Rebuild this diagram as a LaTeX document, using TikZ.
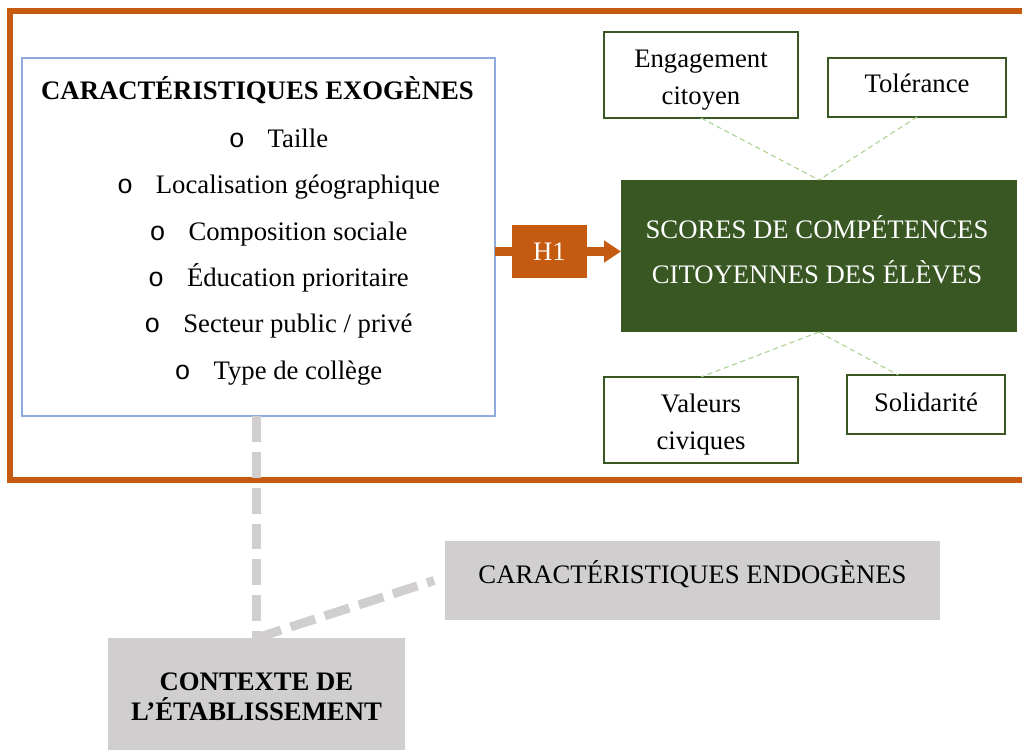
\documentclass[tikz,border=0pt]{standalone}
\usepackage{fontspec}
\setmainfont{Liberation Serif}
\newfontfamily\bulletfont{Liberation Mono}
\usepackage{tikz}
\usetikzlibrary{arrows.meta}
\newcommand{\pixelsize}{0.02cm}
\newcommand{\listbullet}{{\bulletfont o}\hspace{13pt}}
\newcommand{\lowerline}{\rule{0pt}{16pt}}
\definecolor{frameorange}{HTML}{C55A11}
\definecolor{exoblue}{HTML}{8FAADC}
\definecolor{scoregreen}{HTML}{385723}
\definecolor{dashgreen}{HTML}{A9D18E}
\definecolor{contextgray}{HTML}{D0CECE}
\tikzstyle{box}=[inner sep=0, outer sep=0, align=center]
\tikzstyle{exobox}=[box, draw=exoblue, line width=0.85pt]
\tikzstyle{hbox}=[box, fill=frameorange, text=white]
\tikzstyle{scorebox}=[box, fill=scoregreen]
\tikzstyle{facet}=[box, draw=scoregreen, line width=0.85pt, font=\fontsize{15.2}{21}\selectfont]
\tikzstyle{graybox}=[box, fill=contextgray]
\tikzstyle{hlink}=[draw=frameorange, line width=4.6pt]
\tikzstyle{facetlink}=[draw=dashgreen, line width=0.6pt, dash pattern=on 3pt off 2pt]
\tikzstyle{contextlink}=[draw=contextgray, line width=5.1pt, dash pattern=on 14.7pt off 5.7pt]
\tikzstyle{diagram}=[x=\pixelsize, y=-\pixelsize,
                     % Text size of the whole figure.
                     every node/.style={font=\fontsize{15.2}{18}\selectfont}]

\begin{document}
\begin{tikzpicture}[diagram]
        \useasboundingbox (0, 0) rectangle (1022, 750);
        \clip (0, 0) rectangle (1022, 750);
        \draw[frameorange, line width=3.4pt] (10, 11) rectangle (1040, 480);
        \node[exobox, minimum width=473*\pixelsize, minimum height=358*\pixelsize] (exo) at (258.5, 237) {};
        \node[box, font=\fontsize{15.2}{18}\bfseries] (exotitle) at (257.5, 90) {CARACTÉRISTIQUES EXOGÈNES};
        \node[box, font=\fontsize{15.2}{26.4}\selectfont] (exolist) at (278.5, 257) {\listbullet Taille\\
            \listbullet Localisation géographique\\ \listbullet Composition sociale\\
            \listbullet Éducation prioritaire\\ \listbullet Secteur public / privé\\
            \listbullet Type de collège};
        \node[hbox, minimum width=75*\pixelsize, minimum height=53*\pixelsize] (h1) at (549.5, 251.5) {H1};
        \node[scorebox, minimum width=396*\pixelsize, minimum height=152*\pixelsize] (scores) at (819, 256) {};
        \node[box, text=white, font=\fontsize{15.2}{25.5}\selectfont] (scorestext) at (817, 250)
            {SCORES DE COMPÉTENCES\\CITOYENNES DES ÉLÈVES};
        \node[facet, minimum width=194*\pixelsize, minimum height=86*\pixelsize] (citoyen) at (701, 75) {\lowerline Engagement\\citoyen};
        \node[facet, text depth=4.6pt, minimum width=178*\pixelsize, minimum height=59*\pixelsize] (tolerance) at (917, 87.5) {Tolérance};
        \node[facet, minimum width=194*\pixelsize, minimum height=86*\pixelsize] (valeurs) at (701, 420) {\lowerline Valeurs\\civiques};
        \node[facet, text depth=2.3pt, minimum width=158*\pixelsize, minimum height=59*\pixelsize] (solidarite) at (926, 404.5) {Solidarité};
        \node[graybox, text depth=9.5pt, minimum width=495*\pixelsize, minimum height=79*\pixelsize] (endo) at (692.5, 580.5) {CARACTÉRISTIQUES ENDOGÈNES};
        \node[graybox, font=\fontsize{15.2}{17}\bfseries, minimum width=297*\pixelsize, minimum height=118*\pixelsize] (context) at (256.5, 697)
            {CONTEXTE DE\\L’ÉTABLISSEMENT};
        \draw[hlink] (exo.east |- h1) -- (h1.west);
        \draw[hlink, -{Triangle[length=9.6pt, width=11.9pt]}] (h1.east) -- (scores.west |- h1);
        \draw[facetlink] (citoyen.south) -- (scores.north);
        \draw[facetlink] (tolerance.south) -- (scores.north);
        \draw[facetlink] (scores.south) -- (valeurs.north);
        \draw[facetlink] (scores.south) -- ([xshift=-15.9pt]solidarite.north);
        \draw[contextlink] (context.north |- exo.south) -- (context.north);
        \draw[contextlink] (context.north) -- ([xshift=-6.2pt]endo.west);
    \end{tikzpicture}
\end{document}
